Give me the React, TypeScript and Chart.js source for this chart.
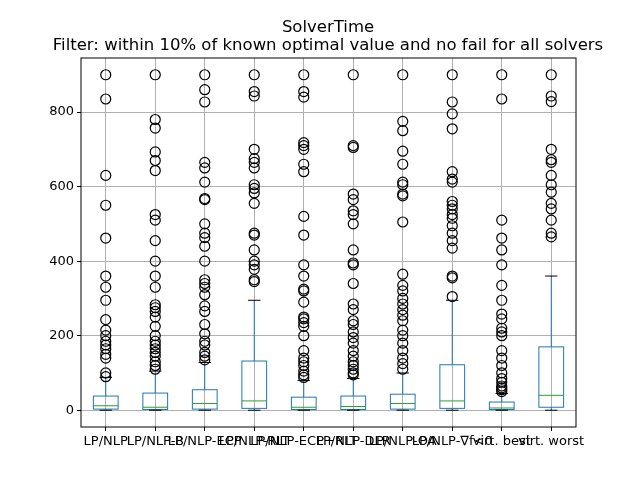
import React, { useEffect, useRef } from 'react';
import Chart from 'chart.js/auto';

const categories = ['LP/NLP', 'LP/NLP-B', 'LP/NLP-ECP', 'LP/NLP-RLT', 'LP/NLP-ECP+RLT', 'LP/NLP-DLR', 'LP/NLP-OA', 'LP/NLP-∇f<0', 'virt. best', 'virt. worst'];
const q1 = [3, 2, 3, 5, 2, 2, 3, 5, 2, 8];
const medians = [12, 8, 18, 25, 8, 10, 18, 25, 6, 40];
const q3 = [38, 46, 55, 132, 35, 38, 43, 122, 22, 170];
const whiskLow = [0, 0, 0, 0, 0, 0, 0, 0, 0, 0];
const whiskHigh = [88, 105, 128, 295, 80, 85, 100, 295, 45, 360];
const outliers = [
  [900, 835, 630, 550, 462, 360, 330, 295, 243, 215, 200, 185, 175, 165, 150, 140, 100, 90],
  [900, 780, 757, 693, 670, 643, 525, 510, 455, 400, 360, 330, 283, 275, 265, 250, 225, 200, 185, 175, 165, 155, 145, 130, 120, 110],
  [900, 860, 827, 665, 650, 612, 568, 565, 500, 475, 463, 440, 400, 350, 340, 330, 310, 280, 265, 230, 205, 185, 175, 155, 145, 135],
  [900, 855, 843, 700, 675, 665, 650, 605, 595, 583, 555, 475, 470, 430, 400, 390, 378, 350, 345],
  [900, 855, 840, 718, 710, 700, 660, 640, 520, 470, 390, 360, 325, 320, 290, 250, 245, 235, 225, 200, 160, 140, 130, 120, 105, 95, 88],
  [900, 710, 705, 580, 565, 535, 525, 500, 430, 395, 390, 340, 285, 270, 240, 230, 210, 195, 180, 160, 145, 130, 120, 110, 100, 95],
  [900, 775, 750, 695, 660, 612, 605, 580, 575, 505, 365, 335, 320, 300, 285, 270, 255, 240, 215, 200, 180, 160, 140, 125, 110],
  [900, 827, 795, 755, 640, 620, 612, 560, 550, 540, 525, 515, 495, 475, 455, 435, 360, 355, 305],
  [900, 835, 510, 462, 430, 390, 335, 295, 258, 245, 220, 210, 200, 160, 140, 120, 100, 85, 75, 65, 60, 55, 50],
  [900, 843, 828, 700, 672, 665, 630, 605, 585, 555, 540, 510, 475, 465],
];
const yTicks = [0, 200, 400, 600, 800];

const boxPlugin = {
  id: 'boxes',
  beforeDatasetsDraw(chart: any) {
    const { ctx, scales } = chart;
    const x = scales.x, y = scales.y;
    ctx.save();
    ctx.lineWidth = 1;
    categories.forEach((_, i) => {
      const c = i + 1;
      const xl = x.getPixelForValue(c - 0.25), xr = x.getPixelForValue(c + 0.25);
      const cl = x.getPixelForValue(c - 0.125), cr = x.getPixelForValue(c + 0.125);
      const xc = x.getPixelForValue(c);
      const line = (x1: number, y1: number, x2: number, y2: number, col: string) => {
        ctx.strokeStyle = col; ctx.beginPath(); ctx.moveTo(x1, y1); ctx.lineTo(x2, y2); ctx.stroke();
      };
      const b = '#1f77b4';
      ctx.strokeStyle = b;
      ctx.strokeRect(xl, y.getPixelForValue(q3[i]), xr - xl, y.getPixelForValue(q1[i]) - y.getPixelForValue(q3[i]));
      line(xc, y.getPixelForValue(q3[i]), xc, y.getPixelForValue(whiskHigh[i]), b);
      line(xc, y.getPixelForValue(q1[i]), xc, y.getPixelForValue(whiskLow[i]), b);
      line(cl, y.getPixelForValue(whiskHigh[i]), cr, y.getPixelForValue(whiskHigh[i]), '#000');
      line(cl, y.getPixelForValue(whiskLow[i]), cr, y.getPixelForValue(whiskLow[i]), '#000');
      line(xl, y.getPixelForValue(medians[i]), xr, y.getPixelForValue(medians[i]), '#2ca02c');
    });
    ctx.restore();
  },
  afterDraw(chart: any) {
    const { ctx, chartArea } = chart;
    ctx.save();
    ctx.strokeStyle = '#000';
    ctx.lineWidth = 1;
    ctx.strokeRect(chartArea.left, chartArea.top, chartArea.right - chartArea.left, chartArea.bottom - chartArea.top);
    ctx.fillStyle = '#000';
    ctx.font = '16.5px "DejaVu Sans"';
    ctx.textAlign = 'center';
    ctx.fillText('SolverTime', 328, 32);
    ctx.fillText('Filter: within 10% of known optimal value and no fail for all solvers', 328, 50);
    ctx.restore();
  },
};

const App: React.FC = () => {
  const ref = useRef<HTMLCanvasElement | null>(null);
  useEffect(() => {
    document.body.style.margin = '0';
    if (!ref.current) return;
    const data = outliers.flatMap((vals, i) => vals.map((v) => ({ x: i + 1, y: v })));
    const chart = new Chart(ref.current, {
      type: 'scatter',
      data: {
        datasets: [{
          data,
          pointStyle: 'circle',
          pointRadius: 5,
          pointBorderColor: '#000',
          pointBackgroundColor: 'rgba(0,0,0,0)',
          pointBorderWidth: 1.2,
        }],
      },
      options: {
        animation: false,
        responsive: false,
        layout: { padding: { top: 58, right: 64, left: 0, bottom: 0 } },
        plugins: { legend: { display: false }, tooltip: { enabled: false } },
        scales: {
          x: {
            type: 'linear', min: 0.5, max: 10.5,
            afterFit: (s: any) => { s.height = 53; },
            afterBuildTicks: (s: any) => { s.ticks = categories.map((_, i) => ({ value: i + 1 })); },
            grid: { color: '#b0b0b0', drawTicks: true, tickLength: 4, tickColor: '#000' },
            border: { display: false },
            ticks: {
              autoSkip: false, maxRotation: 0, color: '#000',
              font: { family: 'DejaVu Sans', size: 13 },
              callback: (v: any) => categories[Number(v) - 1] ?? '',
            },
          },
          y: {
            min: -45, max: 945,
            afterFit: (s: any) => { s.width = 81; },
            afterBuildTicks: (s: any) => { s.ticks = yTicks.map((v) => ({ value: v })); },
            grid: { color: '#b0b0b0', tickLength: 4, tickColor: '#000' },
            border: { display: false },
            ticks: { color: '#000', font: { family: 'DejaVu Sans', size: 13 } },
          },
        },
      },
      plugins: [boxPlugin],
    });
    return () => chart.destroy();
  }, []);
  return <canvas ref={ref} width={640} height={480} />;
};

export default App;
